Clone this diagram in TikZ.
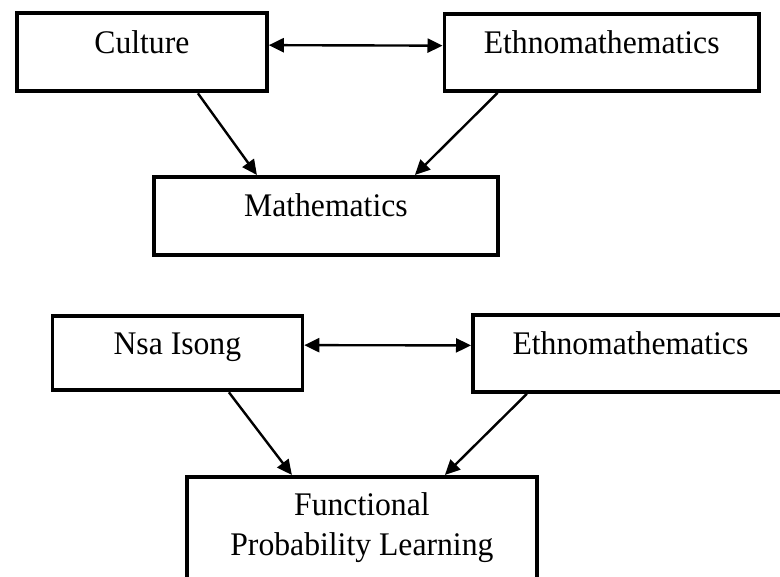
\documentclass[tikz,border=0pt]{standalone}
\usepackage{fontspec}
\setmainfont[FakeStretch=0.96]{Liberation Serif}
\usetikzlibrary{arrows.meta, positioning}

\begin{document}
\begin{tikzpicture}[x=1pt, y=-1pt, >={Triangle[length=15pt, width=14pt]}, line join=miter]
	%======================
	% STYLES
	%======================
	\tikzset{
		box/.style={draw, line width=3.8pt, inner sep=0pt, anchor=north west, align=center,
			text height=40pt, text depth=37pt, font=\fontsize{33}{40}\selectfont},
		link/.style={line width=2.4pt, ->},
		twoway/.style={line width=2.4pt, <->}
	}
	
	\clip (0,0) rectangle (780,577);
	
	% upper scheme
	\node[box, minimum width=250pt, text height=41pt, text depth=37.5pt] (culture) at (15,11) {Culture};
	\node[box, minimum width=314.5pt, text height=39.5pt] (ethnoA) at (442.5,12.5) {Ethnomathematics};
	\node[box, minimum width=344pt, text depth=38pt] (maths) at (152,175) {Mathematics};
	
	\draw[twoway] ([yshift=7pt]culture.east) -- ([yshift=7pt]ethnoA.west);
	\draw[link] ([xshift=56pt]culture.south) -- ([xshift=-69pt]maths.north);
	\draw[link] ([xshift=-104pt]ethnoA.south) -- ([xshift=89pt]maths.north);
	
	% lower scheme
	\node[box, minimum width=250pt, text height=39pt, text depth=35.5pt] (nsa) at (50.5,314) {Nsa Isong};
	\node[box, minimum width=315pt] (ethnoB) at (471,313) {Ethnomathematics};
	\node[box, minimum width=350pt, text height=79pt, text depth=60pt] (fpl) at (185,475) {Functional\\Probability Learning};
	
	\draw[twoway] ([yshift=8pt]nsa.east) -- ([yshift=8pt]ethnoB.west);
	\draw[link] ([xshift=51.5pt]nsa.south) -- ([xshift=-70pt]fpl.north);
	\draw[link] ([xshift=-103.5pt]ethnoB.south) -- ([xshift=83pt]fpl.north);
\end{tikzpicture}
\end{document}
